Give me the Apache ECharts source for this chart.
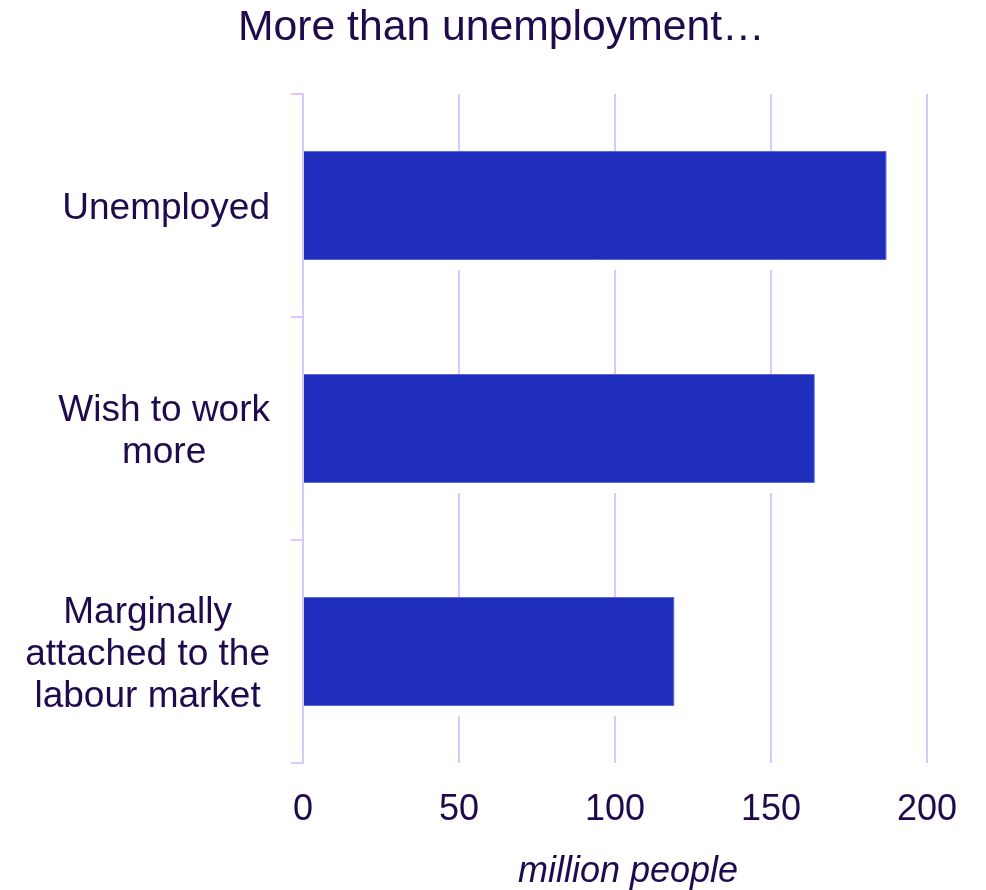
<!DOCTYPE html>
<html>
<head>
<meta charset="utf-8">
<script src="https://cdn.jsdelivr.net/npm/echarts@6/dist/echarts.min.js"></script>
<style>html,body{margin:0;padding:0;background:#fff;}#c{width:986px;height:890px;}</style>
</head>
<body>
<div id="c"></div>
<script>
var titleText = 'More than unemployment…';
var categories = [['Unemployed'], ['Wish to work', 'more'], ['Marginally', 'attached to the', 'labour market']];
var values = [187, 164, 119];
var xTicks = [0, 50, 100, 150, 200];
var xName = 'million people';

var textColor = '#200a4e';
var gridColor = '#dcc8fc';
var barColor = '#1f2ebd';
var font = 'Liberation Sans, Arial, sans-serif';

var catKeys = categories.map(function (c, i) { return 'c' + i; });
var chart = echarts.init(document.getElementById('c'));
chart.setOption({
  animation: false,
  title: {
    text: titleText, left: 233, top: 2,
    textStyle: { color: textColor, fontSize: 42.7, fontWeight: 'normal', fontFamily: font }
  },
  grid: { left: 303, right: 59, top: 94, bottom: 127, containLabel: false, outerBoundsMode: 'none' },
  xAxis: {
    type: 'value', min: xTicks[0], max: xTicks[xTicks.length - 1], interval: 50,
    axisLine: { show: false }, axisTick: { show: false },
    splitLine: { show: true, lineStyle: { color: gridColor, width: 2 } },
    axisLabel: { color: textColor, fontSize: 36, fontFamily: font, margin: 29 },
    name: xName, nameLocation: 'middle', nameGap: 91,
    nameTextStyle: { color: textColor, fontSize: 36, fontStyle: 'italic', fontFamily: font, padding: [0, 0, 0, 26] }
  },
  yAxis: {
    type: 'category', inverse: true, z: 5,
    data: catKeys,
    axisLine: { show: true, lineStyle: { color: gridColor, width: 2 } },
    axisTick: { show: true, length: 12, lineStyle: { color: gridColor, width: 2 } },
    splitLine: { show: false },
    axisLabel: {
      margin: 33, align: 'right', color: textColor, fontSize: 37, fontFamily: font, lineHeight: 42,
      padding: [6, 0, 0, 0],
      formatter: function (v) {
        var i = catKeys.indexOf(v);
        return categories[i].map(function (l) { return '{c|' + l + '}'; }).join('\n');
      },
      rich: { c: { align: 'center', color: textColor, fontSize: 37, fontFamily: font, lineHeight: 42 } }
    }
  },
  series: [
    {
      type: 'bar', data: values, barWidth: 119, z: 1, silent: true,
      itemStyle: { color: '#ffffff' }
    },
    {
      type: 'bar', data: values, barWidth: 109, barGap: '-100%', z: 2,
      itemStyle: { color: barColor, borderColor: '#5a68dc', borderWidth: 1 }
    }
  ]
});
</script>
</body>
</html>
